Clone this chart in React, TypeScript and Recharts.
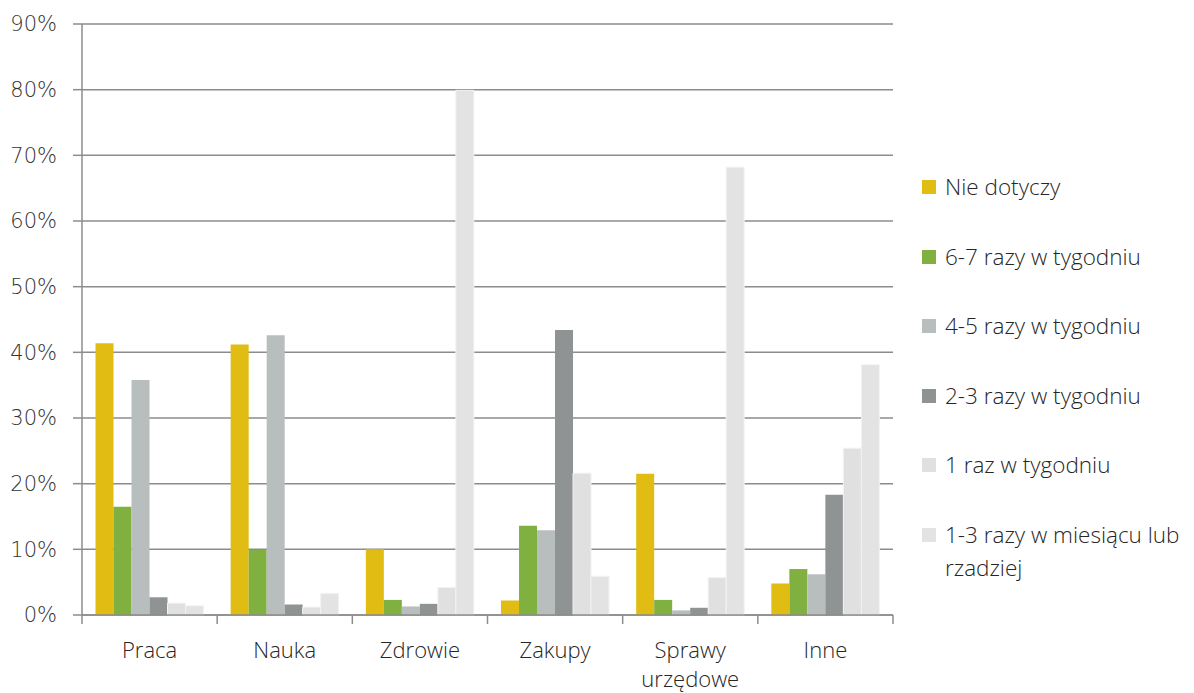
import React from 'react';
import { BarChart, Bar, XAxis, YAxis, CartesianGrid } from 'recharts';

const categories = ['Praca', 'Nauka', 'Zdrowie', 'Zakupy', 'Sprawy urzędowe', 'Inne'];
const nieDotyczy = [41.4, 41.2, 10.0, 2.2, 21.5, 4.8];
const raz67 = [16.5, 9.9, 2.3, 13.6, 2.3, 7.0];
const raz45 = [35.8, 42.6, 1.3, 12.9, 0.7, 6.2];
const raz23 = [2.7, 1.6, 1.7, 43.4, 1.1, 18.3];
const raz1 = [1.8, 1.2, 4.2, 21.6, 5.7, 25.4];
const raz13m = [1.4, 3.3, 79.9, 5.9, 68.2, 38.1];
const yTicks = [0, 10, 20, 30, 40, 50, 60, 70, 80, 90];

const seriesNames = [
  'Nie dotyczy',
  '6-7 razy w tygodniu',
  '4-5 razy w tygodniu',
  '2-3 razy w tygodniu',
  '1 raz w tygodniu',
  '1-3 razy w miesiącu lub rzadziej',
];
const seriesKeys = ['a', 'b', 'c', 'd', 'e', 'f'];
const colors = ['#E1BC12', '#80B140', '#B8BDBD', '#8F9394', '#E0E0E0', '#E3E3E3'];

const data = categories.map((name, i) => ({
  name,
  a: nieDotyczy[i],
  b: raz67[i],
  c: raz45[i],
  d: raz23[i],
  e: raz1[i],
  f: raz13m[i],
}));

const FONT = '"Open Sans", sans-serif';
const GRID = '#8C8C8C';

const XTick = (props: any) => {
  const { x, y, payload, index, width } = props;
  const band = width / categories.length;
  const words = String(payload.value).split(' ');
  const isLast = index === categories.length - 1;
  return (
    <g>
      <line x1={x - band / 2} x2={x - band / 2} y1={y} y2={y + 9} stroke={GRID} strokeWidth={1.5} />
      {isLast && (
        <line x1={x + band / 2} x2={x + band / 2} y1={y} y2={y + 9} stroke={GRID} strokeWidth={1.5} />
      )}
      {words.map((w: string, i: number) => (
        <text
          key={i}
          x={x}
          y={y + 43 + i * 29}
          textAnchor="middle"
          fontFamily={FONT}
          fontWeight={300}
          fontSize={22}
          fill="#262626"
        >
          {w}
        </text>
      ))}
    </g>
  );
};

const LegendBox = () => (
  <div
    style={{
      position: 'absolute',
      left: 922,
      top: 170,
      width: 272,
      fontFamily: FONT,
      fontWeight: 300,
      fontSize: 22.5,
      color: '#262626',
    }}
  >
    {seriesNames.map((n, i) => (
      <div key={n} style={{ position: 'relative', height: 69.6, width: 272 }}>
        <div
          style={{
            position: 'absolute',
            left: 0,
            top: 10,
            width: 14,
            height: 14,
            background: colors[i],
          }}
        />
        <div
          style={{
            position: 'absolute',
            left: 23,
            top: 0,
            lineHeight: '33px',
            width: 249,
            whiteSpace: i === 5 ? 'normal' : 'nowrap',
          }}
        >
          {n}
        </div>
      </div>
    ))}
  </div>
);

export default function App() {
  return (
    <div style={{ position: 'absolute', left: 0, top: 0, width: 1194, height: 693, background: '#fff' }}>
      <BarChart
        width={1194}
        height={693}
        data={data}
        margin={{ top: 24, right: 301, bottom: 0, left: 0 }}
        barCategoryGap="10%"
        barGap={0}
      >
        <CartesianGrid vertical={false} stroke={GRID} strokeWidth={1.5} />
        <XAxis
          dataKey="name"
          height={78}
          axisLine={{ stroke: GRID, strokeWidth: 1.5 }}
          tickLine={false}
          tickSize={0}
          tickMargin={0}
          interval={0}
          tick={<XTick />}
        />
        <YAxis
          domain={[0, 90]}
          ticks={yTicks}
          interval={0}
          width={82}
          tickSize={9}
          tickMargin={16}
          tickFormatter={(v: number) => `${v}%`}
          axisLine={{ stroke: GRID, strokeWidth: 1.5 }}
          tickLine={{ stroke: GRID, strokeWidth: 1.5 }}
          tick={{ fontFamily: '"DejaVu Sans", sans-serif', fontWeight: 200, fontSize: 21, fill: '#333333' }}
        />
        {seriesKeys.map((k, i) => (
          <Bar
            key={k}
            dataKey={k}
            name={seriesNames[i]}
            fill={colors[i]}
            stroke={i >= 4 ? '#F2F2F2' : 'none'}
            strokeWidth={1}
            isAnimationActive={false}
          />
        ))}
      </BarChart>
      <LegendBox />
    </div>
  );
}
